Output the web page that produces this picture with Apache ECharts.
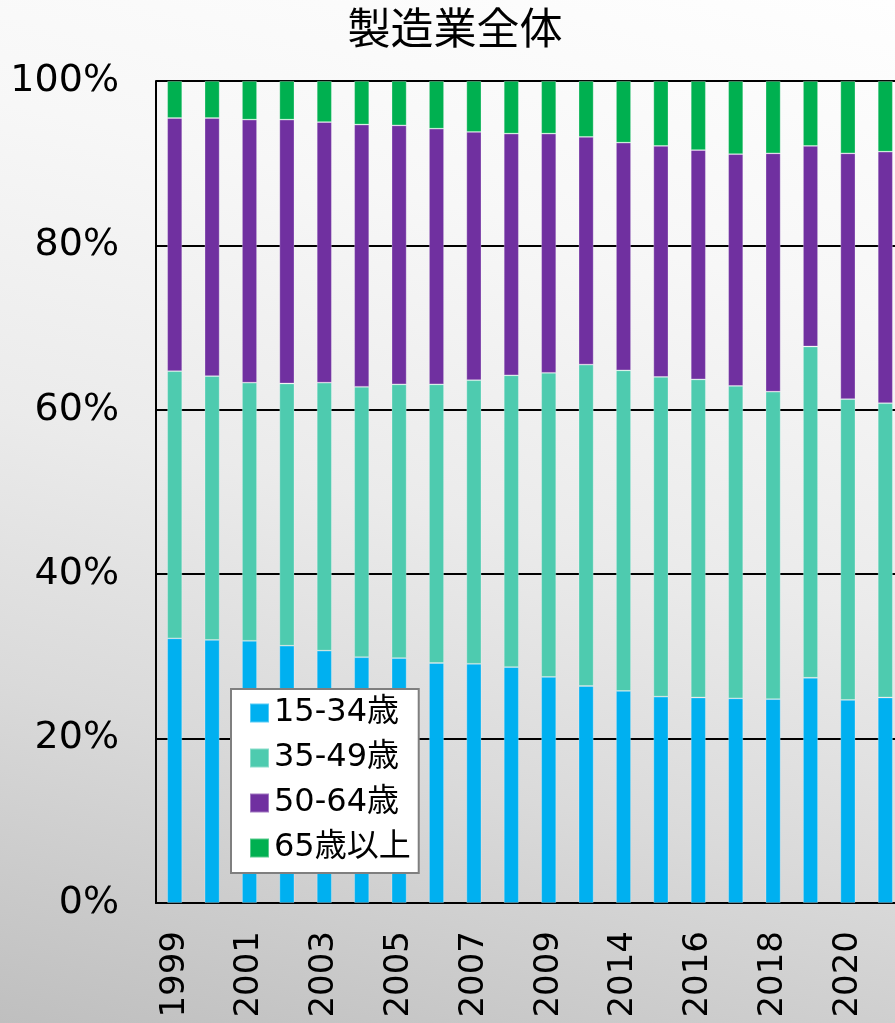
<!DOCTYPE html>
<html>
<head>
<meta charset="utf-8">
<script src="https://cdn.jsdelivr.net/npm/echarts@6/dist/echarts.min.js"></script>
<style>
  html, body {
    margin: 0;
    padding: 0;
    width: 895px;
    height: 1023px;
    overflow: hidden;
    background: linear-gradient(193deg, #fefefe 0%, #f7f7f7 25%, #ebebeb 50%, #dadada 72%, #bfbfbf 100%);
  }
  #chart {
    width: 910px;
    height: 1060px;
  }
</style>
</head>
<body>
<div id="chart"></div>
<script>
// Share of manufacturing workers by age group (%)
const years = ['1999', '2000', '2001', '2002', '2003', '2004', '2005', '2006', '2007', '2008',
               '2009', '2012', '2014', '2015', '2016', '2017', '2018', '2019', '2020', '2021'];

const age15to34 = [32.2, 32.0, 31.9, 31.3, 30.7, 29.9, 29.8, 29.2, 29.1, 28.7,
                   27.5, 26.4, 25.8, 25.1, 25.0, 24.9, 24.8, 27.4, 24.7, 25.0];
const age35to49 = [32.5, 32.1, 31.4, 31.9, 32.6, 32.9, 33.3, 33.9, 34.5, 35.5,
                   37.0, 39.1, 39.0, 38.9, 38.7, 38.0, 37.4, 40.3, 36.6, 35.8];
const age50to64 = [30.8, 31.4, 32.0, 32.1, 31.7, 31.9, 31.5, 31.1, 30.2, 29.4,
                   29.1, 27.7, 27.7, 28.1, 27.9, 28.2, 29.0, 24.4, 29.9, 30.6];
const age65plus = [4.5, 4.5, 4.7, 4.7, 5.0, 5.3, 5.4, 5.8, 6.2, 6.4,
                   6.4, 6.8, 7.5, 7.9, 8.4, 8.9, 8.8, 7.9, 8.8, 8.6];

const seriesNames = ['15-34歳', '35-49歳', '50-64歳', '65歳以上'];
const seriesData = [age15to34, age35to49, age50to64, age65plus];
const seriesColors = ['#00b0f0', '#4ecbaf', '#7030a0', '#00b050'];

const yTicks = [0, 20, 40, 60, 80, 100];

const FONT = "'DejaVu Sans', 'Noto Sans CJK JP', sans-serif";

const chart = echarts.init(document.getElementById('chart'), null, { renderer: 'canvas' });

chart.setOption({
  backgroundColor: 'transparent',
  animation: false,
  title: {
    text: '製造業全体',
    left: 'center',
    top: 1,
    textStyle: {
      fontFamily: "'Noto Sans CJK JP', sans-serif",
      fontSize: 43,
      fontWeight: 'normal',
      color: '#000'
    }
  },
  legend: {
    data: seriesNames,
    orient: 'vertical',
    left: 231,
    top: 689,
    icon: 'rect',
    itemWidth: 19,
    itemHeight: 19,
    itemGap: 13,
    backgroundColor: '#ffffff',
    borderColor: '#7f7f7f',
    borderWidth: 2,
    padding: [8, 8, 9, 18],
    textStyle: {
      fontFamily: FONT,
      fontSize: 32,
      lineHeight: 32,
      color: '#000'
    }
  },
  grid: {
    left: 156,
    top: 81,
    width: 748,
    height: 822,
    containLabel: false
  },
  xAxis: {
    type: 'category',
    data: years,
    boundaryGap: true,
    axisLine: { show: true, lineStyle: { color: '#000', width: 2 } },
    axisTick: { show: false },
    axisLabel: {
      interval: 1,
      rotate: 90,
      margin: 28,
      fontFamily: FONT,
      fontSize: 34,
      color: '#000'
    },
    splitLine: { show: false }
  },
  yAxis: {
    type: 'value',
    min: yTicks[0],
    max: yTicks[yTicks.length - 1],
    interval: yTicks[1] - yTicks[0],
    axisLine: { show: true, lineStyle: { color: '#000', width: 2 } },
    axisTick: { show: false },
    axisLabel: {
      formatter: '{value}%',
      margin: 37,
      fontFamily: FONT,
      fontSize: 38,
      color: '#000'
    },
    splitLine: { show: true, lineStyle: { color: '#000', width: 2 } }
  },
  series: seriesNames.map((name, i) => ({
    name: name,
    type: 'bar',
    stack: 'total',
    barWidth: 15,
    data: seriesData[i],
    itemStyle: {
      color: seriesColors[i],
      borderColor: 'rgba(255,255,255,0.35)',
      borderWidth: 0.8
    }
  }))
});
</script>
</body>
</html>
